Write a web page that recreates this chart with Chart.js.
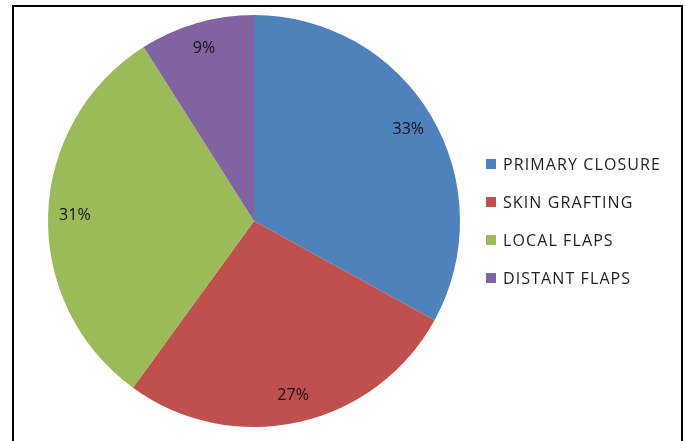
<!DOCTYPE html>
<html>
<head>
<meta charset="utf-8">
<script src="https://cdn.jsdelivr.net/npm/chart.js@4"></script>
<style>
  body { margin: 0; background: #fff; }
  #wrap { position: relative; width: 685px; height: 441px; overflow: hidden; }
  #frame { position: absolute; left: 12px; top: 5px; width: 667px; height: 460px; border: 2px solid #000; border-bottom: none; }
  canvas { position: absolute; left: 0; top: 0; }
  #legend { position: absolute; left: 486px; top: 153px; font-family: "Open Sans", sans-serif; font-size: 16px; letter-spacing: 1.1px; color: #1e1e1e; }
  #legend div { height: 38px; display: flex; align-items: flex-start; line-height: 22px; }
  #legend span.box { width: 10px; height: 10px; margin: 6px 7px 0 0; display: inline-block; }
</style>
</head>
<body>
<div id="wrap">
  <canvas id="pie" width="685" height="441"></canvas>
  <div id="frame"></div>
  <div id="legend"></div>
</div>
<script>
// chart data
const categories = ["PRIMARY CLOSURE", "SKIN GRAFTING", "LOCAL FLAPS", "DISTANT FLAPS"];
const shares = [33, 27, 31, 9];
const colors = ["#4F81BD", "#C0504D", "#9BBB59", "#8064A2"];

// legend (html)
const legendEl = document.getElementById("legend");
categories.forEach((c, i) => {
  legendEl.insertAdjacentHTML("beforeend",
    `<div><span class="box" style="background:${colors[i]}"></span>${c}</div>`);
});

// percent labels inside slices
const pctLabels = {
  id: "pctLabels",
  afterDatasetsDraw(chart) {
    const ctx = chart.ctx;
    const meta = chart.getDatasetMeta(0);
    ctx.save();
    ctx.font = "16px 'Open Sans', sans-serif";
    ctx.fillStyle = "#141414";
    ctx.textAlign = "center";
    ctx.textBaseline = "middle";
    meta.data.forEach((arc, i) => {
      const p = arc.getProps(["x", "y", "startAngle", "endAngle", "outerRadius"], true);
      const mid = (p.startAngle + p.endAngle) / 2;
      const r = p.outerRadius * 0.87;
      ctx.fillText(shares[i] + "%", p.x + Math.cos(mid) * r, p.y + Math.sin(mid) * r);
    });
    ctx.restore();
  }
};

new Chart(document.getElementById("pie"), {
  type: "pie",
  data: {
    labels: categories,
    datasets: [{
      data: shares,
      backgroundColor: colors,
      borderWidth: 0
    }]
  },
  options: {
    responsive: false,
    animation: false,
    layout: { padding: { left: 48, top: 15, right: 225, bottom: 14 } },
    plugins: { legend: { display: false }, tooltip: { enabled: false } }
  },
  plugins: [pctLabels]
});
</script>
</body>
</html>
